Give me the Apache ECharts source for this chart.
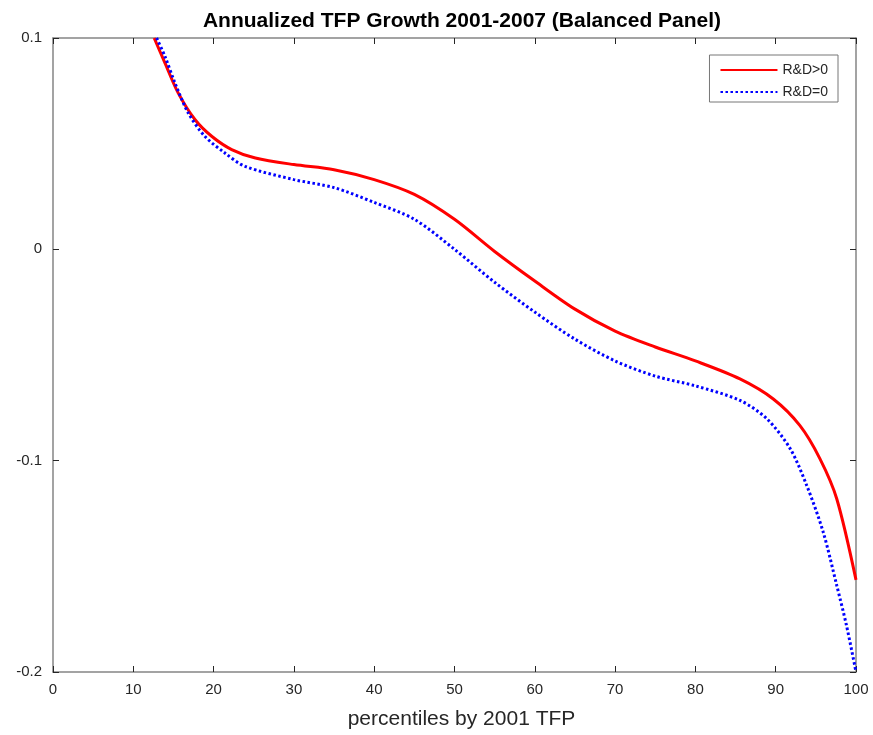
<!DOCTYPE html>
<html>
<head>
<meta charset="utf-8">
<script src="https://cdn.jsdelivr.net/npm/echarts@6/dist/echarts.min.js"></script>
<style>html,body{margin:0;padding:0;background:#fff;}#c{width:873px;height:735px;}</style>
</head>
<body>
<div id="c"></div>
<script>
const titleText = 'Annualized TFP Growth 2001-2007 (Balanced Panel)';
const xName = 'percentiles by 2001 TFP';
const xTicks = [0,10,20,30,40,50,60,70,80,90,100];
const yTicks = [-0.2,-0.1,0,0.1];

const redX = [12.6, 13.95, 15.6, 17.7, 19.76, 22.25, 25.2, 30, 35, 40, 45, 50, 55, 60, 65, 70, 75, 80, 85.55, 89.7, 93, 95.5, 97.6, 100];
const redY = [0.1, 0.0881, 0.0739, 0.0613, 0.0535, 0.0472, 0.0432, 0.0401, 0.0377, 0.033, 0.026, 0.0142, -0.001, -0.015, -0.0283, -0.0387, -0.0462, -0.0528, -0.0613, -0.0708, -0.0833, -0.099, -0.118, -0.1564];
const blueX = [12.9, 13.95, 15.2, 16.85, 18.9, 21.4, 23.9, 30, 35, 40, 45, 50, 55, 60, 65, 70, 75, 80, 85.55, 88.9, 91.8, 93.85, 95.9, 97.6, 98.8, 100];
const blueY = [0.1, 0.0912, 0.0786, 0.0645, 0.0535, 0.0456, 0.0393, 0.033, 0.0292, 0.0222, 0.0142, 0, -0.0156, -0.0297, -0.0425, -0.0528, -0.06, -0.0646, -0.0715, -0.0802, -0.0943, -0.1116, -0.1336, -0.159, -0.1777, -0.2];

const redData = redX.map((x,i)=>[x, redY[i]]);
const blueData = blueX.map((x,i)=>[x, blueY[i]]);

const frame = '#858585';
const txt = '#262626';
const fmtY = v => { const r = Math.round(v*10)/10; return r === 0 ? '0' : String(r); };

const chart = echarts.init(document.getElementById('c'));
chart.setOption({
  backgroundColor: '#fff',
  animation: false,
  title: {
    text: titleText, left: 457, textAlign: 'center', top: 6,
    textStyle: {fontFamily: 'Liberation Sans, Arial', fontWeight: 'bold', fontSize: 21, color: '#000'}
  },
  legend: {
    right: 35, top: 55, orient: 'vertical',
    itemWidth: 57, itemHeight: 14, itemGap: 8,
    padding: [8, 10, 3, 10],
    borderColor: '#777', borderWidth: 1, backgroundColor: '#fff',
    itemStyle: {opacity: 0},
    textStyle: {fontFamily: 'Liberation Sans, Arial', fontSize: 14, color: txt},
    data: ['R&D>0', 'R&D=0']
  },
  grid: {left: 53, right: 17, top: 38, bottom: 61, containLabel: false},
  xAxis: [{
    type: 'value', min: 0, max: 100, interval: 10,
    name: xName, nameLocation: 'middle', nameGap: 37,
    nameTextStyle: {fontFamily: 'Liberation Sans, Arial', fontSize: 21, color: txt, padding: [0, 0, 0, 14]},
    axisLine: {show: true, onZero: false, lineStyle: {color: frame, width: 1.5}},
    axisTick: {show: true, inside: true, length: 6, lineStyle: {color: txt}},
    axisLabel: {fontFamily: 'Liberation Sans, Arial', fontSize: 15, color: txt, margin: 10},
    splitLine: {show: false}
  }, {
    type: 'value', min: 0, max: 100, interval: 10, position: 'top',
    axisLine: {show: true, onZero: false, lineStyle: {color: frame, width: 1.5}},
    axisTick: {show: true, inside: true, length: 6, lineStyle: {color: txt}},
    axisLabel: {show: false}, splitLine: {show: false}
  }],
  yAxis: [{
    type: 'value', min: -0.2, max: 0.1, interval: 0.1,
    axisLine: {show: true, onZero: false, lineStyle: {color: frame, width: 1.5}},
    axisTick: {show: true, inside: true, length: 6, lineStyle: {color: txt}},
    axisLabel: {fontFamily: 'Liberation Sans, Arial', fontSize: 15, color: txt, margin: 11, formatter: fmtY},
    splitLine: {show: false}
  }, {
    type: 'value', min: -0.2, max: 0.1, interval: 0.1, position: 'right',
    axisLine: {show: true, onZero: false, lineStyle: {color: frame, width: 1.5}},
    axisTick: {show: true, inside: true, length: 6, lineStyle: {color: txt}},
    axisLabel: {show: false}, splitLine: {show: false}
  }],
  series: [{
    name: 'R&D>0', type: 'line', data: redData, smooth: 0.3,
    symbol: 'none', showSymbol: false,
    lineStyle: {color: '#ff0000', width: 3}, itemStyle: {color: '#ff0000'}
  }, {
    name: 'R&D=0', type: 'line', data: blueData, smooth: 0.3,
    symbol: 'none', showSymbol: false,
    lineStyle: {color: '#0000ff', width: 3, type: [2.5, 2.5]}, itemStyle: {color: '#0000ff'}
  }]
});
</script>
</body>
</html>
